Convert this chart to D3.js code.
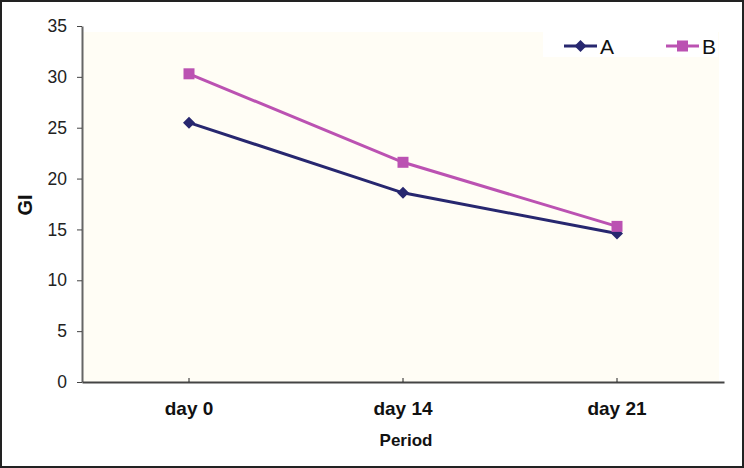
<!DOCTYPE html>
<html>
<head>
<meta charset="utf-8">
<script src="https://cdn.jsdelivr.net/npm/d3@7"></script>
<style>
  html, body { margin: 0; padding: 0; background: #fff; }
  svg { display: block; }
</style>
</head>
<body>
<svg id="chart" width="744" height="468"></svg>
<script>
// --- data ---
const periods = ["day 0", "day 14", "day 21"];
const seriesA = [25.5, 18.6, 14.6];
const seriesB = [30.3, 21.6, 15.3];
const yTicks = [0, 5, 10, 15, 20, 25, 30, 35];

const series = [
  { name: "A", values: seriesA, color: "#27276f", marker: "diamond" },
  { name: "B", values: seriesB, color: "#bb52b2", marker: "square" }
];

const width = 744, height = 468;
const plot = { left: 82, right: 724, top: 26, bottom: 382 };
const font = "Liberation Sans, Arial, sans-serif";

const svg = d3.select("#chart");

// outer frame
svg.append("rect")
  .attr("x", 1).attr("y", 1)
  .attr("width", width - 2).attr("height", height - 2)
  .attr("fill", "#fff")
  .attr("stroke", "#222").attr("stroke-width", 2);

const x = d3.scaleBand().domain(periods).range([plot.left, plot.right]);
const y = d3.scaleLinear().domain([0, 35]).range([plot.bottom, plot.top]);

// plot background
svg.append("rect")
  .attr("x", plot.left).attr("y", 32)
  .attr("width", 719 - plot.left).attr("height", plot.bottom - 32)
  .attr("fill", "#fffdf5");

// y axis
const yAxis = svg.append("g")
  .attr("transform", `translate(${plot.left},0)`)
  .call(d3.axisLeft(y).tickValues(yTicks).tickSize(5).tickPadding(10).tickSizeOuter(0));
yAxis.select(".domain").attr("stroke", "#666").attr("stroke-width", 2);
yAxis.selectAll(".tick line").attr("stroke", "#444");
yAxis.selectAll("text")
  .attr("font-family", font)
  .attr("font-size", 17.5).attr("fill", "#222");

// x axis
const xAxis = svg.append("g")
  .attr("transform", `translate(0,${plot.bottom})`)
  .call(d3.axisBottom(x).tickSize(-4).tickPadding(20).tickSizeOuter(0));
xAxis.select(".domain").attr("stroke", "#444").attr("stroke-width", 2);
xAxis.selectAll(".tick line").attr("stroke", "#222");
xAxis.selectAll("text")
  .attr("font-family", font)
  .attr("font-size", 19).attr("font-weight", "bold").attr("fill", "#111");

// axis titles
svg.append("text")
  .attr("transform", "translate(32,205) rotate(-90)")
  .attr("text-anchor", "middle")
  .attr("font-family", font)
  .attr("font-size", 20).attr("font-weight", "bold").attr("fill", "#111")
  .text("GI");

svg.append("text")
  .attr("x", 406)
  .attr("y", 446)
  .attr("text-anchor", "middle")
  .attr("font-family", font)
  .attr("font-size", 17).attr("font-weight", "bold").attr("fill", "#111")
  .text("Period");

const cx = d => x(d) + x.bandwidth() / 2;

function drawMarker(g, type, px, py, color) {
  if (type === "diamond") {
    g.append("path")
      .attr("d", `M${px},${py - 6}L${px + 6},${py}L${px},${py + 6}L${px - 6},${py}Z`)
      .attr("fill", color);
  } else {
    g.append("rect")
      .attr("x", px - 5.5).attr("y", py - 5.5)
      .attr("width", 11).attr("height", 11)
      .attr("fill", color);
  }
}

const line = d3.line().x((d, i) => cx(periods[i])).y(d => y(d));

series.forEach(s => {
  const g = svg.append("g");
  g.append("path")
    .datum(s.values)
    .attr("d", line)
    .attr("fill", "none")
    .attr("stroke", s.color)
    .attr("stroke-width", 3);
  s.values.forEach((v, i) => drawMarker(g, s.marker, cx(periods[i]), y(v), s.color));
});

// legend
const legend = svg.append("g");
legend.append("rect")
  .attr("x", 543).attr("y", 32).attr("width", 175).attr("height", 25)
  .attr("fill", "#fff");
const legendPos = [564, 666];
series.forEach((s, i) => {
  const lx = legendPos[i], ly = 46;
  legend.append("line")
    .attr("x1", lx).attr("x2", lx + 33).attr("y1", ly).attr("y2", ly)
    .attr("stroke", s.color).attr("stroke-width", 3);
  drawMarker(legend, s.marker, lx + 16.5, ly, s.color);
  legend.append("text")
    .attr("x", lx + 36).attr("y", ly + 7.5)
    .attr("font-family", font)
    .attr("font-size", 21).attr("fill", "#111")
    .text(s.name);
});
</script>
</body>
</html>
